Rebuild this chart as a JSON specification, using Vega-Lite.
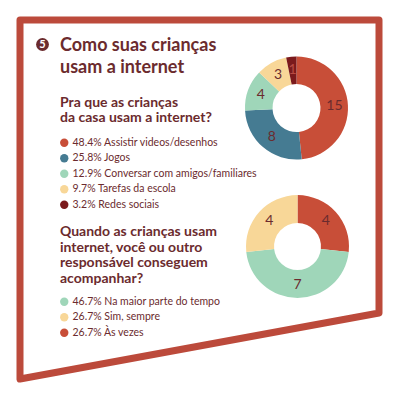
{
  "$schema": "https://vega.github.io/schema/vega-lite/v6.json",
  "width": 400,
  "height": 400,
  "autosize": {"type": "none"},
  "padding": 0,
  "background": "white",
  "config": {"view": {"stroke": null}, "font": "Lato"},
  "layer": [
    {
      "data": {"values": [
        {"i": 0, "fx": 20, "fy": 20},
        {"i": 1, "fx": 379, "fy": 20},
        {"i": 2, "fx": 379, "fy": 313},
        {"i": 3, "fx": 20, "fy": 379},
        {"i": 4, "fx": 20, "fy": 20}
      ]},
      "mark": {"type": "line", "color": "#bc4a3b", "strokeWidth": 7, "strokeJoin": "round", "strokeCap": "round"},
      "encoding": {
        "x": {"field": "fx", "type": "quantitative", "scale": {"domain": [0, 400], "range": [0, 400], "nice": false, "zero": false}, "axis": null},
        "y": {"field": "fy", "type": "quantitative", "scale": {"domain": [0, 400], "range": [0, 400], "nice": false, "zero": false}, "axis": null},
        "order": {"field": "i"}
      }
    },
    {
      "data": {"values": [{}]},
      "mark": {"type": "point", "shape": "circle", "filled": true, "size": 165, "color": "#6b2b2e", "opacity": 1},
      "encoding": {
        "x": {"datum": 42.5, "type": "quantitative"},
        "y": {"datum": 44.5, "type": "quantitative"}
      }
    },
    {
      "data": {"values": [{}]},
      "mark": {"type": "text", "text": "5", "color": "white", "fontWeight": "bold", "fontSize": 11, "align": "center", "baseline": "middle"},
      "encoding": {
        "x": {"datum": 42.5, "type": "quantitative"},
        "y": {"datum": 45, "type": "quantitative"}
      }
    },
    {
      "data": {"values": [{}]},
      "mark": {"type": "text", "text": ["Como suas crianças", "usam a internet"], "color": "#6b2b2e", "fontWeight": "bold", "fontSize": 18, "lineHeight": 22, "align": "left", "baseline": "alphabetic"},
      "encoding": {
        "x": {"datum": 60, "type": "quantitative"},
        "y": {"datum": 51, "type": "quantitative"}
      }
    },
    {
      "data": {"values": [{}]},
      "mark": {"type": "text", "text": ["Pra que as crianças", "da casa usam a internet?"], "color": "#6b2b2e", "fontWeight": "bold", "fontSize": 14, "lineHeight": 15.6, "align": "left", "baseline": "alphabetic"},
      "encoding": {
        "x": {"datum": 60, "type": "quantitative"},
        "y": {"datum": 106.7, "type": "quantitative"}
      }
    },
    {
      "data": {"values": [{}]},
      "mark": {"type": "text", "text": ["Quando as crianças usam", "internet, você ou outro", "responsável conseguem", "acompanhar?"], "color": "#6b2b2e", "fontWeight": "bold", "fontSize": 14, "lineHeight": 15.7, "align": "left", "baseline": "alphabetic"},
      "encoding": {
        "x": {"datum": 60, "type": "quantitative"},
        "y": {"datum": 236, "type": "quantitative"}
      }
    },
    {
      "data": {"values": [
        {"label": "48.4% Assistir videos/desenhos", "n": 15, "ord": 1},
        {"label": "25.8% Jogos", "n": 8, "ord": 2},
        {"label": "12.9% Conversar com amigos/familiares", "n": 4, "ord": 3},
        {"label": "9.7% Tarefas da escola", "n": 3, "ord": 4},
        {"label": "3.2% Redes sociais", "n": 1, "ord": 5}
      ]},
      "encoding": {
        "x": {"datum": 296.5, "type": "quantitative"},
        "y": {"datum": 108, "type": "quantitative"},
        "theta": {"field": "n", "type": "quantitative", "stack": true},
        "order": {"field": "ord"}
      },
      "layer": [
        {
          "mark": {"type": "arc", "outerRadius": 51.5, "innerRadius": 24},
          "encoding": {
            "color": {
              "field": "label", "type": "nominal",
              "scale": {
                "domain": ["48.4% Assistir videos/desenhos", "25.8% Jogos", "12.9% Conversar com amigos/familiares", "9.7% Tarefas da escola", "3.2% Redes sociais"],
                "range": ["#c84e38", "#457b92", "#9fd6b9", "#f8d798", "#7b1a1c"]
              },
              "legend": {"orient": "none", "legendX": 59, "legendY": 137.5, "title": null, "padding": 0, "symbolType": "circle", "symbolSize": 70, "symbolStrokeWidth": 0, "labelFontSize": 10.5, "labelColor": "#6b2b2e", "labelOffset": 3, "labelLimit": 0, "rowPadding": 4.5}
            }
          }
        },
        {
          "mark": {"type": "text", "radius": 38, "fontSize": 14, "align": "center", "baseline": "middle"},
          "encoding": {
            "text": {"field": "n", "type": "quantitative"},
            "color": {"condition": {"test": "datum.n === 1", "value": "#b84a42"}, "value": "#6b2b2e"}
          }
        }
      ]
    },
    {
      "data": {"values": [
        {"label": "26.7% Às vezes", "n": 4, "ord": 1},
        {"label": "46.7% Na maior parte do tempo", "n": 7, "ord": 2},
        {"label": "26.7% Sim, sempre", "n": 4, "ord": 3}
      ]},
      "encoding": {
        "x": {"datum": 297.5, "type": "quantitative"},
        "y": {"datum": 246.5, "type": "quantitative"},
        "theta": {"field": "n", "type": "quantitative", "stack": true},
        "order": {"field": "ord"}
      },
      "layer": [
        {
          "mark": {"type": "arc", "outerRadius": 51.5, "innerRadius": 23.5},
          "encoding": {
            "color": {
              "field": "label", "type": "nominal",
              "scale": {
                "domain": ["46.7% Na maior parte do tempo", "26.7% Sim, sempre", "26.7% Às vezes"],
                "range": ["#9fd6b9", "#f8d798", "#c84e38"]
              },
              "legend": {"orient": "none", "legendX": 59, "legendY": 296.5, "title": null, "padding": 0, "symbolType": "circle", "symbolSize": 70, "symbolStrokeWidth": 0, "labelFontSize": 10.5, "labelColor": "#6b2b2e", "labelOffset": 3, "labelLimit": 0, "rowPadding": 4.5}
            }
          }
        },
        {
          "mark": {"type": "text", "radius": 38, "fontSize": 14, "align": "center", "baseline": "middle", "color": "#6b2b2e"},
          "encoding": {
            "text": {"field": "n", "type": "quantitative"}
          }
        }
      ]
    }
  ],
  "resolve": {"scale": {"theta": "independent", "color": "independent"}, "legend": {"color": "independent"}}
}
